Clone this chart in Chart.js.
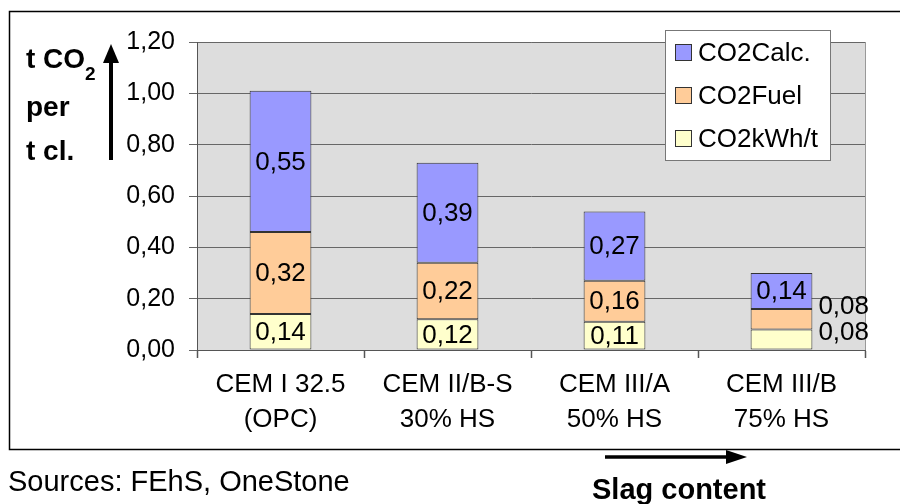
<!DOCTYPE html>
<html>
<head>
<meta charset="utf-8">
<script src="https://cdn.jsdelivr.net/npm/chart.js@4"></script>
<style>
  body { margin: 0; background: #fff; }
  #chart { display: block; }
</style>
</head>
<body>
<canvas id="chart" width="900" height="504"></canvas>
<script>
// input data
const cementTypes = [['CEM I 32.5', '(OPC)'], ['CEM II/B-S', '30% HS'], ['CEM III/A', '50% HS'], ['CEM III/B', '75% HS']];
const co2kWh = [0.14, 0.12, 0.11, 0.08];
const co2Fuel = [0.32, 0.22, 0.16, 0.08];
const co2Calc = [0.55, 0.39, 0.27, 0.14];
const yTicks = [0, 0.2, 0.4, 0.6, 0.8, 1.0, 1.2];

const FONT = "'Liberation Sans', Arial, sans-serif";
const fmt = v => v.toFixed(2).replace('.', ',');

// background, frame, legend and extra texts
const decoPlugin = {
    id: 'deco',
    beforeDraw(chart) {
        const ctx = chart.ctx;
        const a = chart.chartArea;
        ctx.save();
        ctx.fillStyle = '#dddddd';
        ctx.fillRect(a.left, a.top, a.right - a.left, a.bottom - a.top);
        ctx.strokeStyle = '#999999';
        ctx.lineWidth = 1;
        ctx.strokeRect(a.left + 0.5, a.top + 0.5, a.right - a.left, a.bottom - a.top);
        ctx.restore();
    },
    afterDraw(chart) {
        const ctx = chart.ctx;
        ctx.save();
        // outer frame
        ctx.strokeStyle = '#000';
        ctx.lineWidth = 1.5;
        ctx.strokeRect(9.5, 11.5, 900, 438);

        // value labels (small segments go to the right of the bar)
        ctx.fillStyle = '#000';
        ctx.font = '26px ' + FONT;
        ctx.textBaseline = 'middle';
        chart.data.datasets.forEach((ds, i) => {
            const meta = chart.getDatasetMeta(i);
            meta.data.forEach((bar, j) => {
                const v = ds.data[j];
                const cy = (bar.y + bar.base) / 2;
                if (bar.base - bar.y < 24) {
                    ctx.textAlign = 'left';
                    ctx.fillText(fmt(v), bar.x + bar.width / 2 + 6, cy - (i === 0 ? 7 : 12));
                } else {
                    ctx.textAlign = 'center';
                    ctx.fillText(fmt(v), bar.x, cy + 1);
                }
            });
        });

        // legend
        ctx.fillStyle = '#fff';
        ctx.fillRect(665, 30, 165, 130);
        ctx.strokeStyle = '#777';
        ctx.lineWidth = 1;
        ctx.strokeRect(665.5, 30.5, 165, 130);
        const items = chart.data.datasets.slice().reverse();
        items.forEach((ds, k) => {
            const y = 53 + k * 43;
            ctx.fillStyle = ds.backgroundColor;
            ctx.fillRect(675.5, y - 8.5, 16, 16);
            ctx.strokeStyle = '#333';
            ctx.strokeRect(675.5, y - 8.5, 16, 16);
            ctx.fillStyle = '#000';
            ctx.textAlign = 'left';
            ctx.font = '26px ' + FONT;
            ctx.fillText(ds.label, 698, y + 1);
        });

        // y axis title
        ctx.font = 'bold 28px ' + FONT;
        ctx.textBaseline = 'alphabetic';
        ctx.fillText('t CO', 26, 68);
        const w = ctx.measureText('t CO').width;
        ctx.font = 'bold 19px ' + FONT;
        ctx.fillText('2', 26 + w, 80);
        ctx.font = 'bold 28px ' + FONT;
        ctx.fillText('per', 26, 116);
        ctx.fillText('t cl.', 26, 160);

        // vertical arrow
        ctx.strokeStyle = '#000';
        ctx.fillStyle = '#000';
        ctx.lineWidth = 4;
        ctx.beginPath();
        ctx.moveTo(111, 160);
        ctx.lineTo(111, 58);
        ctx.stroke();
        ctx.beginPath();
        ctx.moveTo(103, 63);
        ctx.lineTo(111, 44);
        ctx.lineTo(119, 63);
        ctx.closePath();
        ctx.fill();

        // sources
        ctx.font = '29px ' + FONT;
        ctx.fillText('Sources: FEhS, OneStone', 8, 491);

        // slag arrow
        ctx.lineWidth = 3.5;
        ctx.beginPath();
        ctx.moveTo(605, 457);
        ctx.lineTo(730, 457);
        ctx.stroke();
        ctx.beginPath();
        ctx.moveTo(726, 450);
        ctx.lineTo(747, 457);
        ctx.lineTo(726, 464);
        ctx.closePath();
        ctx.fill();

        ctx.font = 'bold 29px ' + FONT;
        ctx.fillText('Slag content', 592, 499);
        ctx.restore();
    }
};

const barStyle = { borderColor: '#333333', borderWidth: 1, borderSkipped: false };

new Chart(document.getElementById('chart'), {
    type: 'bar',
    data: {
        labels: cementTypes,
        datasets: [
            { label: 'CO2kWh/t', data: co2kWh, backgroundColor: '#ffffcc', ...barStyle },
            { label: 'CO2Fuel', data: co2Fuel, backgroundColor: '#ffcc99', ...barStyle },
            { label: 'CO2Calc.', data: co2Calc, backgroundColor: '#9999ff', ...barStyle }
        ]
    },
    options: {
        responsive: false,
        animation: false,
        layout: { padding: { left: 0, top: 42, right: 35, bottom: 0 } },
        plugins: { legend: { display: false }, tooltip: { enabled: false } },
        datasets: { bar: { categoryPercentage: 1, barPercentage: 0.37 } },
        scales: {
            x: {
                stacked: true,
                afterFit: s => { s.height = 154; },
                grid: { offset: true, drawOnChartArea: false, tickLength: 8, color: '#555', tickWidth: 1.5 },
                border: { color: '#555' },
                ticks: { color: '#000', font: { family: FONT, size: 26, lineHeight: 1.35 }, padding: 9, maxRotation: 0 }
            },
            y: {
                stacked: true,
                min: 0,
                max: 1.2,
                afterFit: s => { s.width = 197; },
                afterBuildTicks: s => { s.ticks = yTicks.map(v => ({ value: v })); },
                grid: { color: '#666', tickLength: 8, lineWidth: 1 },
                border: { color: '#555' },
                ticks: { color: '#000', font: { family: FONT, size: 25 }, padding: 14, callback: v => fmt(v) }
            }
        }
    },
    plugins: [decoPlugin]
});
</script>
</body>
</html>
